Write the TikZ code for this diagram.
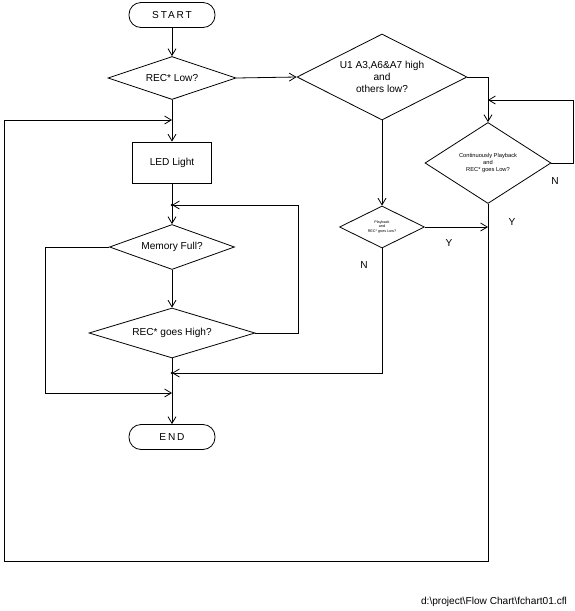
\documentclass[tikz,border=0pt]{standalone}
\usepackage{fontspec}
\setmainfont{Liberation Sans}
\usetikzlibrary{arrows.meta,shapes.geometric}

\begin{document}
\begin{tikzpicture}[x=0.75pt,y=-0.75pt,
    line width=0.6pt,
    every node/.style={font=\fontsize{7.6}{9}\selectfont},
    flow/.style={-{Straight Barb[length=5pt,width=6pt]}},
    terminal/.style={draw, rectangle, rounded corners=9pt, minimum width=64.5pt,
                     minimum height=18.75pt, inner sep=0pt,
                     font=\fontsize{7.6}{9}\selectfont\addfontfeature{LetterSpace=18}},
    decision/.style={draw, diamond, aspect=2, inner sep=0pt, align=center},
    process/.style={draw, rectangle, inner sep=0pt, minimum width=59.25pt, minimum height=30.75pt},
    lab/.style={font=\fontsize{7.6}{9}\selectfont},
    joint/.style={circle, fill, inner sep=0pt, minimum size=2pt}]
  \useasboundingbox (0,0) rectangle (575,611);

  % main column
  \node[terminal] (start) at (172,15) {START};
  \node[decision, minimum width=96pt, minimum height=32.25pt] (rec) at (172,78) {REC* Low?};
  \node[process] (led) at (172,162.5) {LED Light};
  \node[decision, minimum width=93.75pt, minimum height=33.75pt] (mem) at (172,247) {Memory Full?};
  \node[decision, aspect=3, minimum width=124.5pt, minimum height=37.5pt] (high) at (172,333) {REC* goes High?};
  \node[terminal] (stop) at (172,437) {END};

  % right side
  \node[decision, minimum width=127.5pt, minimum height=64.5pt] (uone) at (382,77)
    {U1 A3,A6\&A7 high\\and\\others low?};
  \node[decision, minimum width=63.75pt, minimum height=31.5pt,
        font=\fontsize{2.8}{3.6}\selectfont] (play) at (382,227)
    {Playback\\and\\REC* goes Low?};
  \node[decision, minimum width=94.5pt, minimum height=60.75pt,
        font=\fontsize{4.3}{5.4}\selectfont] (cont) at (488,163)
    {Continuously Playback\\and\\REC* goes Low?};

  \coordinate (ledin) at (172,120);
  \coordinate (memin) at (172,205);
  \coordinate (endin) at (172,373);
  \coordinate (fullin) at (172,393);
  \coordinate (contin) at (488,100);

  \draw[flow] (start) -- (rec);
  \draw[flow] (rec) -- (led);
  \draw[flow] (led) -- (mem);
  \draw[flow] (mem) -- (high);
  \draw[flow] (high) -- (stop);

  \draw[flow] (rec.east) -- (uone.west);
  \draw[flow] (uone) -- (play);
  \draw[flow] (uone.east) -| (cont.north);
  \draw[flow] (cont.east) -- (573,163) -- (573,100) -- (contin);
  \draw[flow] (play.east) -- (play.east -| cont.south);
  \draw[flow] (cont.south) -- (488,561) -- (4,561) -- (4,120) -- (ledin);

  \draw[flow] (high.east) -- (298,333) -- (298,205) -- (memin);
  \draw[flow] (mem.west) -- (45,247) -- (45,393) -- (fullin);
  \draw[flow] (play.south) -- (382,373) -- (endin);
  \node[joint] (j1) at (memin) {};
  \node[joint] (j2) at (endin) {};

  % branch labels
  \node[lab] (py) at (449,243) {Y};
  \node[lab] (pn) at (364,265) {N};
  \node[lab] (cn) at (555,181) {N};
  \node[lab] (cy) at (512,222) {Y};

  \node[lab] (file) at (494,602) {d:\textbackslash project\textbackslash Flow Chart\textbackslash fchart01.cfl};
\end{tikzpicture}
\end{document}
